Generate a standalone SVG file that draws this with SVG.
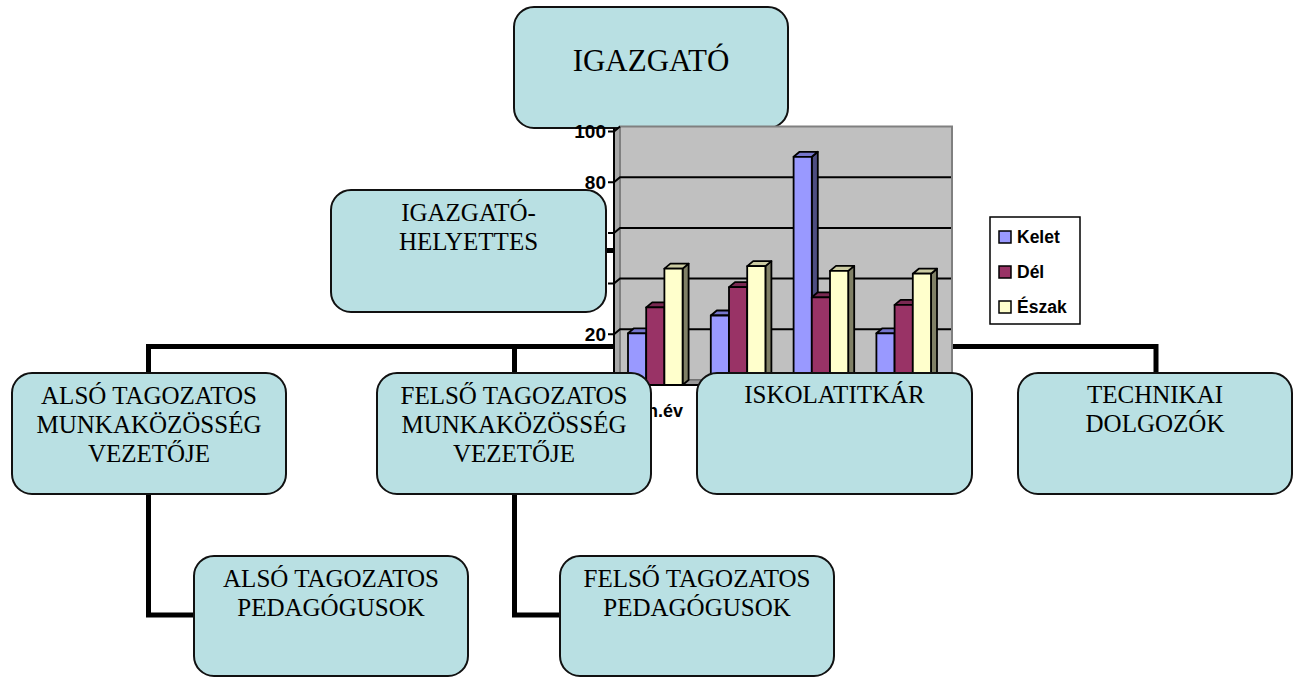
<svg xmlns="http://www.w3.org/2000/svg" width="1300" height="677" viewBox="0 0 1300 677">
<style>
.box{fill:#B9E0E3;stroke:#111;stroke-width:2}
.t{font-family:"Liberation Serif","Times New Roman",serif;font-size:25px;fill:#000;text-anchor:middle}
.conn{fill:none;stroke:#000;stroke-width:5;stroke-linejoin:miter;stroke-linecap:square}
.lbl{font-family:"Liberation Sans",Arial,sans-serif;font-weight:bold;font-size:18px;fill:#000}
.ax{font-size:19px}
.bar{stroke:#000;stroke-width:1.8;stroke-linejoin:round}
.kf{fill:#9999FF}.kt{fill:#7676CC}.ks{fill:#4D4D80}
.df{fill:#993366}.dt{fill:#7A2952}.ds{fill:#4D1A33}
.ef{fill:#FFFFCC}.et{fill:#CCCCA3}.es{fill:#808066}
.grid{stroke:#000;stroke-width:2;fill:none}
</style>
<rect width="1300" height="677" fill="#fff"/>
<g id="connectors">
<path class="conn" d="M148.5,373 V346.5 H1156 V373"/>
<path class="conn" d="M514.5,346.5 V373"/>
<path class="conn" d="M834.5,346.5 V373"/>
<path class="conn" d="M651,128 V346.5"/>
<path class="conn" d="M606,250.5 H651"/>
<path class="conn" d="M148.5,494 V615 H194"/>
<path class="conn" d="M514.5,494 V615 H560"/>
</g>
<g id="node-igazgato">
<rect class="box" x="514" y="7" width="274" height="121" rx="20"/>
<text class="t" x="651" y="71" style="font-size:31px">IGAZGATÓ</text>
</g>
<g id="chart">
<polygon points="614,131.5 620,126.5 620,380 614,385" fill="#A8A8A8" stroke="#808080" stroke-width="1"/>
<rect x="620" y="126.5" width="332" height="253.5" fill="#C0C0C0" stroke="#808080" stroke-width="2"/>
<polygon points="614,385 620,380 952,380 946,385" fill="#999" stroke="#666" stroke-width="1"/>
<g class="grid">
<polyline points="608,182.2 614,182.2 620,177.2 951,177.2"/>
<polyline points="608,233 614,233 620,228 951,228"/>
<polyline points="608,283.6 614,283.6 620,278.6 951,278.6"/>
<polyline points="608,334.3 614,334.3 620,329.3 951,329.3"/>
<polyline points="608,131.5 614,131.5 620,126.5"/>
<line x1="614" y1="128" x2="614" y2="386"/>
<line x1="608" y1="385" x2="946" y2="385"/>
</g>
<text class="lbl ax" x="606" y="138" text-anchor="end">100</text>
<text class="lbl ax" x="606" y="189" text-anchor="end">80</text>
<text class="lbl ax" x="606" y="341" text-anchor="end">20</text>
<g class="bar">
<polygon class="ks" points="646.2,333.3 652.2,328.3 652.2,380 646.2,385"/>
<polygon class="kt" points="628,333.3 634,328.3 652.2,328.3 646.2,333.3"/>
<rect class="kf" x="628" y="333.3" width="18.2" height="51.7"/>
<polygon class="ds" points="664.4,307.4 670.4,302.4 670.4,380 664.4,385"/>
<polygon class="dt" points="646.2,307.4 652.2,302.4 670.4,302.4 664.4,307.4"/>
<rect class="df" x="646.2" y="307.4" width="18.2" height="77.6"/>
<polygon class="es" points="682.6,268.6 688.6,263.6 688.6,380 682.6,385"/>
<polygon class="et" points="664.4,268.6 670.4,263.6 688.6,263.6 682.6,268.6"/>
<rect class="ef" x="664.4" y="268.6" width="18.2" height="116.4"/>

<polygon class="ks" points="729,315.5 735,310.5 735,380 729,385"/>
<polygon class="kt" points="710.8,315.5 716.8,310.5 735,310.5 729,315.5"/>
<rect class="kf" x="710.8" y="315.5" width="18.2" height="69.5"/>
<polygon class="ds" points="747.2,287.1 753.2,282.1 753.2,380 747.2,385"/>
<polygon class="dt" points="729,287.1 735,282.1 753.2,282.1 747.2,287.1"/>
<rect class="df" x="729" y="287.1" width="18.2" height="97.9"/>
<polygon class="es" points="765.4,266.1 771.4,261.1 771.4,380 765.4,385"/>
<polygon class="et" points="747.2,266.1 753.2,261.1 771.4,261.1 765.4,266.1"/>
<rect class="ef" x="747.2" y="266.1" width="18.2" height="118.9"/>

<polygon class="ks" points="811.8,156.8 817.8,151.8 817.8,380 811.8,385"/>
<polygon class="kt" points="793.6,156.8 799.6,151.8 817.8,151.8 811.8,156.8"/>
<rect class="kf" x="793.6" y="156.8" width="18.2" height="228.2"/>
<polygon class="ds" points="830,297.3 836,292.3 836,380 830,385"/>
<polygon class="dt" points="811.8,297.3 817.8,292.3 836,292.3 830,297.3"/>
<rect class="df" x="811.8" y="297.3" width="18.2" height="87.7"/>
<polygon class="es" points="848.2,270.9 854.2,265.9 854.2,380 848.2,385"/>
<polygon class="et" points="830,270.9 836,265.9 854.2,265.9 848.2,270.9"/>
<rect class="ef" x="830" y="270.9" width="18.2" height="114.1"/>

<polygon class="ks" points="894.6,333.3 900.6,328.3 900.6,380 894.6,385"/>
<polygon class="kt" points="876.4,333.3 882.4,328.3 900.6,328.3 894.6,333.3"/>
<rect class="kf" x="876.4" y="333.3" width="18.2" height="51.7"/>
<polygon class="ds" points="912.8,304.9 918.8,299.9 918.8,380 912.8,385"/>
<polygon class="dt" points="894.6,304.9 900.6,299.9 918.8,299.9 912.8,304.9"/>
<rect class="df" x="894.6" y="304.9" width="18.2" height="80.1"/>
<polygon class="es" points="931,273.7 937,268.7 937,380 931,385"/>
<polygon class="et" points="912.8,273.7 918.8,268.7 937,268.7 931,273.7"/>
<rect class="ef" x="912.8" y="273.7" width="18.2" height="111.3"/>
</g>
<text class="lbl" x="647" y="417">n.év</text>
<g id="legend">
<rect x="990" y="217" width="90" height="107" fill="#fff" stroke="#000" stroke-width="1.5"/>
<rect class="kf" x="999" y="231" width="12" height="12" stroke="#000" stroke-width="1.5"/>
<rect class="df" x="999" y="266" width="12" height="12" stroke="#000" stroke-width="1.5"/>
<rect class="ef" x="999" y="301" width="12" height="12" stroke="#000" stroke-width="1.5"/>
<text class="lbl" x="1017" y="243" style="font-size:17.5px">Kelet</text>
<text class="lbl" x="1017" y="278" style="font-size:17.5px">Dél</text>
<text class="lbl" x="1017" y="313" style="font-size:17.5px">Észak</text>
</g>
</g>
<g id="node-helyettes">
<rect class="box" x="331" y="190" width="275" height="122" rx="20"/>
<text class="t" x="468.5" y="221">IGAZGATÓ-</text>
<text class="t" x="468.5" y="250">HELYETTES</text>
</g>
<g id="node-also-mk">
<rect class="box" x="12" y="373" width="274" height="121" rx="20"/>
<text class="t" x="149" y="404">ALSÓ TAGOZATOS</text>
<text class="t" x="149" y="433">MUNKAKÖZÖSSÉG</text>
<text class="t" x="149" y="462">VEZETŐJE</text>
</g>
<g id="node-felso-mk">
<rect class="box" x="377" y="373" width="274" height="121" rx="20"/>
<text class="t" x="514" y="404">FELSŐ TAGOZATOS</text>
<text class="t" x="514" y="433">MUNKAKÖZÖSSÉG</text>
<text class="t" x="514" y="462">VEZETŐJE</text>
</g>
<g id="node-iskolatitkar">
<rect class="box" x="697" y="373" width="275" height="121" rx="20"/>
<text class="t" x="834.5" y="403">ISKOLATITKÁR</text>
</g>
<g id="node-technikai">
<rect class="box" x="1018" y="373" width="274" height="121" rx="20"/>
<text class="t" x="1155" y="403">TECHNIKAI</text>
<text class="t" x="1155" y="432">DOLGOZÓK</text>
</g>
<g id="node-also-ped">
<rect class="box" x="194" y="556" width="274" height="120" rx="20"/>
<text class="t" x="331" y="587">ALSÓ TAGOZATOS</text>
<text class="t" x="331" y="616">PEDAGÓGUSOK</text>
</g>
<g id="node-felso-ped">
<rect class="box" x="560" y="556" width="274" height="120" rx="20"/>
<text class="t" x="697" y="587">FELSŐ TAGOZATOS</text>
<text class="t" x="697" y="616">PEDAGÓGUSOK</text>
</g>
</svg>
